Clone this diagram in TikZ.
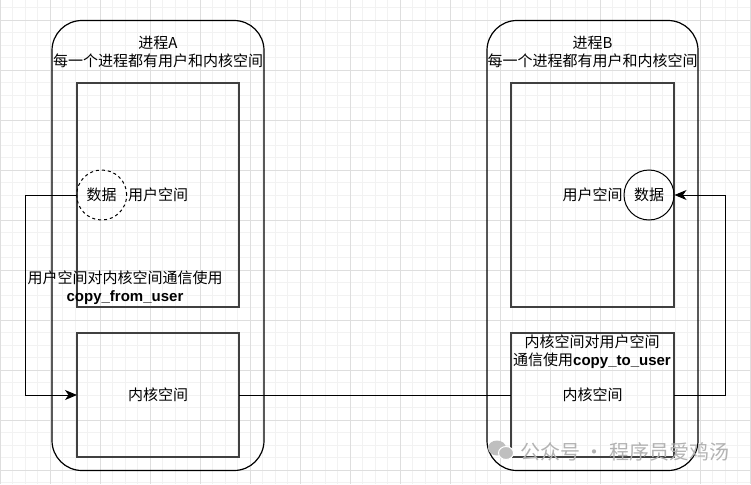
\documentclass[tikz,border=0pt]{standalone}
\usepackage{fontspec}
\setmainfont{Liberation Sans}
\newfontfamily\cjk{Noto Sans CJK SC}
\usetikzlibrary{arrows.meta,positioning}

\newcommand\funcname[1]{{\rmfamily\bfseries #1}}

\begin{document}
\begin{tikzpicture}[x=1pt, y=-1pt, >={Stealth[length=12pt,width=10pt,inset=3.5pt]},
    font=\cjk\fontsize{15}{18}\selectfont,
    gridminor/.style={black!5, line width=0.8pt},
    gridmajor/.style={black!13, line width=0.8pt},
    process/.style={draw, rounded corners=30pt, line width=1.2pt, minimum width=212pt, minimum height=450pt, outer sep=0pt},
    space/.style={draw=black!75, line width=1.4pt, minimum width=162pt, outer sep=0pt},
    data/.style={circle, draw, line width=1pt, minimum size=50pt, inner sep=0pt},
    note/.style={align=center, inner sep=0pt},
    link/.style={line width=1pt}]
    \useasboundingbox (0,0) rectangle (751,484);

    % Grid
    \foreach \x in {0,12.5,...,750} \draw[gridminor] (\x,0) -- (\x,484);
    \foreach \y in {7.5,20,...,484} \draw[gridminor] (0,\y) -- (751,\y);
    \foreach \x in {0,50,...,750} \draw[gridmajor] (\x,0) -- (\x,484);
    \foreach \y in {20,70,...,484} \draw[gridmajor] (0,\y) -- (751,\y);

    % Nodes {procA, procB, userA, kernA, userB, kernB, dataA, dataB}
    \node [process]                         (procA) at (158,245.5)   {};
    \node [process, minimum width=211pt]    (procB) at (592.5,245.5) {};
    \node [space, minimum height=224pt]     (userA) at (158,195)     {用户空间};
    \node [space, minimum height=124pt]     (kernA) [below=26pt of userA] {内核空间};
    \node [space, minimum height=224pt, minimum width=163pt] (userB) at (592.5,195) {用户空间};
    \node [space, minimum height=124pt, minimum width=163pt] (kernB) [below=26pt of userB] {内核空间};
    \node [data, dashed]                    (dataA) at (101.7,195)   {数据};
    \node [data]                            (dataB) at (649,195)     {数据};

    % Texts
    \node [note] (titleA) at (158,52)    {进程A\\每一个进程都有用户和内核空间};
    \node [note] (titleB) at (592.5,52)  {进程B\\每一个进程都有用户和内核空间};
    \node [note] (toKern) at (125,288)   {用户空间对内核空间通信使用\\\funcname{copy\_from\_user}};
    \node [note] (toUser) at (592,352)   {内核空间对用户空间\\通信使用\funcname{copy\_to\_user}};

    % Paths
    \draw [link, ->] (dataA.west) -- ++(-51,0) |- (kernA.west);
    \draw [link, ->] (kernB.east) -- ++(51,0) |- (dataB.east);
    \path [link]     (kernA) edge (kernB);

    % Watermark
    \fill [black!25] (497,448) ellipse (9 and 7.5);
    \filldraw [black!25, draw=white, line width=1pt] (506,453) ellipse (7.5 and 6.5);
    \node [text=black!30, font=\cjk\fontsize{20}{22}\selectfont, anchor=west, inner sep=0pt] (mark) at (520,452) {公众号 · 程序员爱鸡汤};
\end{tikzpicture}
\end{document}
